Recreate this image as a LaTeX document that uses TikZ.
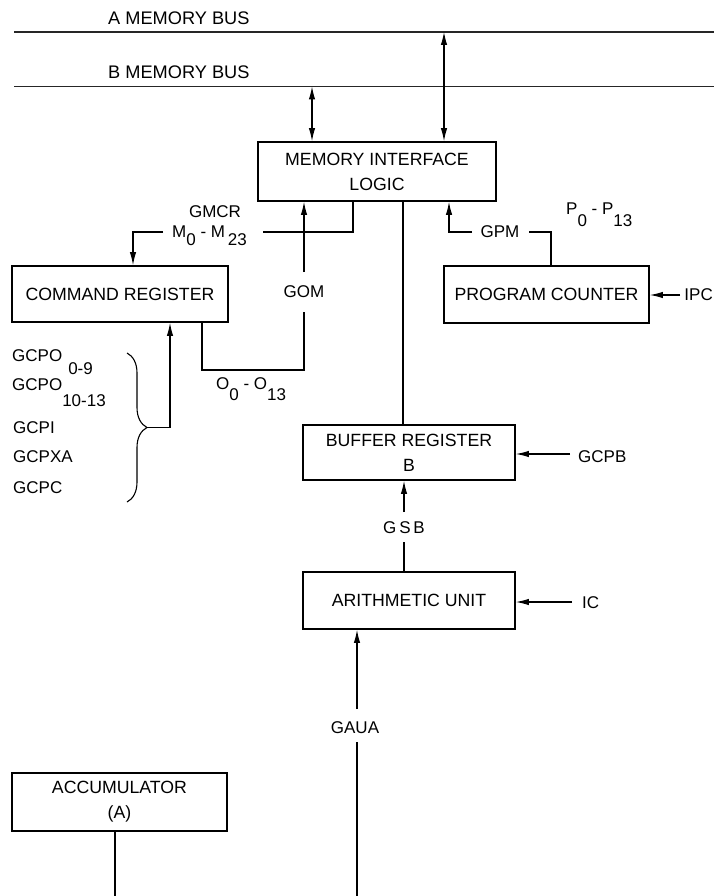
\documentclass[tikz,border=0pt]{standalone}
\usepackage{fontspec}
\setmainfont{Liberation Sans}
\usetikzlibrary{arrows.meta,decorations.pathreplacing}
\newcommand\sublow[2]{\raisebox{-#1pt}{#2}}
\begin{document}
\begin{tikzpicture}[x=1pt,y=-1pt,
  lbl/.style={font=\fontsize{17}{25}\selectfont, inner sep=0pt},
  buslbl/.style={font=\fontsize{18.2}{25}\selectfont, inner sep=0pt},
  box/.style={draw, line width=1.8pt, inner sep=0pt, align=center,
              font=\fontsize{17.7}{25}\selectfont},
  wire/.style={line width=1.1pt},
  arr/.style={wire, -{Latex[length=13pt,width=6.5pt]}},
  darr/.style={wire, {Latex[length=13pt,width=6.5pt]}-{Latex[length=13pt,width=6.5pt]}},
  bus/.style={line width=1.4pt, black!85}]

\useasboundingbox (0,0) rectangle (714,896);

% memory buses
\coordinate (busAL) at (14,32);   \coordinate (busAR) at (714,32);
\coordinate (busBL) at (14,86.5); \coordinate (busBR) at (714,86.5);
\draw[bus] (busAL) -- (busAR);
\draw[bus] (busBL) -- (busBR);
\node[buslbl, anchor=west] (labA) at (108,18) {A MEMORY BUS};
\node[buslbl, anchor=west] (labB) at (108,72) {B MEMORY BUS};

% blocks
\node[box, minimum width=238, minimum height=59] (mil) at (377,171.5) {MEMORY INTERFACE\\LOGIC};
\node[box, minimum width=216, minimum height=56] (cr) at (120,294) {COMMAND REGISTER};
\node[box, minimum width=205, minimum height=57] (pc) at (546.5,294.5) {PROGRAM COUNTER};
\node[box, minimum width=212, minimum height=55] (buf) at (409,452.5) {BUFFER REGISTER\\B};
\node[box, minimum width=212, minimum height=57] (au) at (409,600.5) {ARITHMETIC UNIT};
\node[box, minimum width=215, minimum height=58] (acc) at (119.5,802) {ACCUMULATOR\\(A)};

% bus taps
\coordinate (tapA) at (444,32);
\coordinate (tapB) at (312,86.5);
\draw[darr] (tapA) -- (tapA |- mil.north);
\draw[darr] (tapB) -- (tapB |- mil.north);

% memory to command register
\node[lbl] (gmcr) at (215,212) {GMCR};
\node[lbl, anchor=west] (mlab) at (172,236) {M\sublow{8}{0}\ -\ M\,\sublow{8}{23}};
\coordinate (mR) at (353,232);    \coordinate (mGapR) at (263,232);
\coordinate (mGapL) at (163,232); \coordinate (mL) at (133,232);
\draw[wire] (mR |- mil.south) -- (mR) -- (mGapR);
\draw[arr] (mGapL) -- (mL) -- (mL |- cr.north);

% command register to memory
\node[lbl] (gom) at (304,292) {GOM};
\node[lbl, anchor=west] (olab) at (216,389) {O\sublow{11}{0}\ -\ O\sublow{11}{13}};
\coordinate (oL) at (202,370);  \coordinate (oR) at (304,370);
\coordinate (gomB) at (304,312); \coordinate (gomT) at (304,272);
\draw[wire] (oL |- cr.south) -- (oL) -- (oR) -- (gomB);
\draw[arr] (gomT) -- (gomT |- mil.south);

% control signals into the command register
\node[lbl, anchor=west] (g1) at (12,362) {GCPO\hspace{6pt}\sublow{13}{0-9}};
\node[lbl, anchor=west] (g2) at (12,393) {GCPO\sublow{16}{10-13}};
\node[lbl, anchor=west] (g3) at (13,427.5) {GCPI};
\node[lbl, anchor=west] (g4) at (13,457) {GCPXA};
\node[lbl, anchor=west] (g5) at (13,488) {GCPC};
\draw[wire, decorate, decoration={brace, amplitude=20pt}] (127,353) -- (127,502);
\coordinate (btip) at (147,427.5); \coordinate (bUp) at (170,427.5);
\draw[arr] (btip) -- (bUp) -- (bUp |- cr.south);

% program counter to memory
\node[lbl] (gpm) at (500,232) {GPM};
\node[lbl, anchor=west] (plab) at (566,215) {P\sublow{12}{0}\ -\ P\sublow{12}{13}};
\coordinate (pR) at (551,232);    \coordinate (pGapR) at (529,232);
\coordinate (pGapL) at (472,232); \coordinate (pL) at (449,232);
\draw[wire] (pR |- pc.north) -- (pR) -- (pGapR);
\draw[arr] (pGapL) -- (pL) -- (pL |- mil.south);
\node[lbl, anchor=east] (ipc) at (713,295) {IPC};
\coordinate (ipcS) at (680,295);
\draw[arr] (ipcS) -- (ipcS -| pc.east);

% memory to buffer register
\coordinate (bufx) at (403,300);
\draw[wire] (bufx |- mil.south) -- (bufx |- buf.north);
\node[lbl, anchor=west] (gcpb) at (578,457) {GCPB};
\coordinate (gcpbS) at (570,454);
\draw[arr] (gcpbS) -- (gcpbS -| buf.east);

% arithmetic unit to buffer register
\node[lbl] (gsb) at (404,528) {G\,S\,B};
\coordinate (gsbB) at (404,542); \coordinate (gsbT) at (404,512);
\draw[wire] (gsbB |- au.north) -- (gsbB);
\draw[arr] (gsbT) -- (gsbT |- buf.south);
\node[lbl, anchor=west] (ic) at (582,603) {IC};
\coordinate (icS) at (572,602);
\draw[arr] (icS) -- (icS -| au.east);

% inputs from below
\node[lbl] (gaua) at (355,728) {GAUA};
\coordinate (gauaBot) at (357,896);
\coordinate (gauaB) at (357,742); \coordinate (gauaT) at (357,709);
\draw[wire] (gauaBot) -- (gauaB);
\draw[arr] (gauaT) -- (gauaT |- au.south);
\coordinate (accBot) at (115,896);
\draw[wire] (accBot |- acc.south) -- (accBot);
\end{tikzpicture}
\end{document}
